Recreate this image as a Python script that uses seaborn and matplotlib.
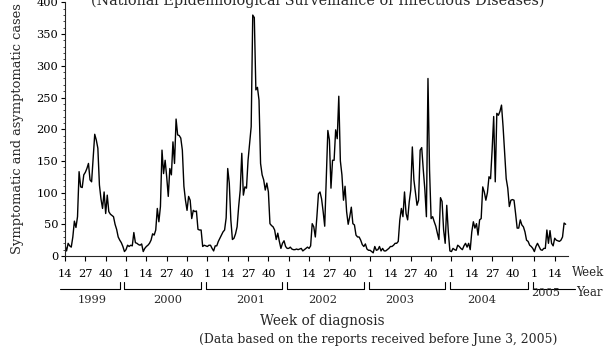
import matplotlib
matplotlib.use("Agg")
import matplotlib.pyplot as plt
from matplotlib.ticker import MultipleLocator
import pandas as pd
import seaborn as sns

# Weekly reported cases per calendar year (1999 starts at week 14, 2005 ends at week 21)
years = [1999, 2000, 2001, 2002, 2003, 2004, 2005]
first_week = [14, 1, 1, 1, 1, 1, 1]
weeks_in_year = [52, 52, 52, 52, 52, 53, 52]
tick_weeks = [1, 14, 27, 40]

cases_1999 = [17, 8, 20, 16, 14, 30, 55, 45, 62, 133, 109, 108, 128, 132, 138, 146,
              120, 117, 155, 192, 183, 170, 112, 90, 75, 101, 67, 96, 70, 66, 64, 62,
              50, 42, 30, 25, 21, 15, 7]
cases_2000 = [10, 17, 15, 17, 16, 37, 21, 20, 18, 17, 19, 7, 12, 15, 17, 20, 25, 35,
              33, 41, 75, 54, 78, 167, 130, 151, 125, 94, 138, 128, 180, 146, 216, 191,
              190, 186, 167, 110, 88, 72, 94, 88, 59, 72, 70, 71, 42, 41, 41, 15, 17, 16]
cases_2001 = [15, 17, 17, 12, 8, 16, 16, 23, 28, 33, 38, 41, 60, 138, 115, 57, 26, 28,
              35, 46, 78, 104, 162, 96, 109, 107, 151, 178, 204, 380, 376, 262, 266,
              246, 146, 128, 120, 104, 115, 101, 51, 48, 46, 41, 26, 36, 23, 12, 20,
              24, 15, 12]
cases_2002 = [12, 14, 11, 10, 10, 11, 10, 11, 12, 8, 10, 12, 14, 12, 16, 51, 46, 30,
              62, 98, 101, 90, 70, 47, 125, 198, 183, 107, 151, 151, 199, 185, 252, 150,
              128, 88, 110, 70, 50, 62, 77, 51, 49, 33, 30, 30, 25, 18, 15, 19, 11, 9]
cases_2003 = [9, 7, 5, 15, 9, 10, 15, 8, 12, 8, 8, 10, 12, 15, 15, 17, 20, 20, 23, 57,
              75, 62, 101, 67, 57, 85, 104, 172, 120, 100, 80, 88, 167, 171, 136, 105,
              62, 280, 136, 59, 62, 54, 47, 36, 26, 92, 86, 41, 20, 80, 38, 8]
cases_2004 = [7, 12, 10, 9, 17, 15, 12, 10, 16, 20, 14, 20, 10, 38, 54, 44, 51, 33, 57,
              59, 109, 101, 88, 100, 125, 122, 167, 220, 117, 225, 222, 228, 238, 204,
              162, 122, 107, 78, 88, 89, 88, 67, 44, 44, 57, 49, 46, 38, 25, 23, 17, 15, 12]
cases_2005 = [7, 15, 20, 15, 10, 9, 12, 12, 41, 20, 40, 20, 16, 28, 25, 24, 23, 25, 30,
              52, 50]

cases = {1999: cases_1999, 2000: cases_2000, 2001: cases_2001, 2002: cases_2002,
         2003: cases_2003, 2004: cases_2004, 2005: cases_2005}

# continuous week counter: t = 0 at 1999 week 14
year_start = {}
t0 = -(first_week[0] - 1)
for y, n in zip(years, weeks_in_year):
    year_start[y] = t0
    t0 += n

rows = []
for y, fw in zip(years, first_week):
    for k, v in enumerate(cases[y]):
        rows.append({"t": year_start[y] + fw - 1 + k, "cases": v})
df = pd.DataFrame(rows)

sns.set_style("ticks")
plt.rcParams["font.family"] = ["DejaVu Serif"]
plt.rcParams["axes.linewidth"] = 0.8

W, H = 609, 346
fig = plt.figure(figsize=(W / 100, H / 100), dpi=100)
ax = fig.add_axes([65 / W, (H - 256) / H, (568 - 65) / W, (256 - 2.4) / H])
sns.lineplot(data=df, x="t", y="cases", color="black", linewidth=1.0,
             estimator=None, ax=ax)

x_max = 321.5
ax.set_xlim(0, x_max)
ax.set_ylim(0, 400)
ax.set_xlabel("")
ax.set_ylabel("")
sns.despine(ax=ax)

ax.yaxis.set_major_locator(MultipleLocator(50))
ax.yaxis.set_minor_locator(MultipleLocator(10))
ax.tick_params(axis="y", which="major", length=3, width=0.8, pad=2,
               labelsize=8.2, colors="black")
ax.tick_params(axis="y", which="minor", length=1.6, width=0.6)

xt, xl = [], []
for y in years:
    for w in tick_weeks:
        t = year_start[y] + w - 1
        if 0 <= t <= x_max:
            xt.append(t)
            xl.append(str(w))
ax.set_xticks(xt)
ax.set_xticklabels(xl)
ax.tick_params(axis="x", which="major", length=3.6, width=0.8, pad=5.5,
               labelsize=8.2, colors="black")

# year brackets below the week labels
trans = ax.get_xaxis_transform()
y_bar, y_tip, y_lab = -0.131, -0.101, -0.1735
label_offset = [30.5, 26.5, 27.5, 22, 19, 19.5, 7.5]
for i, y in enumerate(years):
    s = year_start[y]
    left = max(s - 1, -3.2)
    last = i + 1 == len(years)
    right = 326 if last else year_start[years[i + 1]] - 4
    ax.plot([left, right], [y_bar, y_bar], color="black", lw=0.8,
            transform=trans, clip_on=False)
    if i > 0:
        ax.plot([left, left], [y_bar, y_tip], color="black", lw=0.8,
                transform=trans, clip_on=False)
    if not last:
        ax.plot([right, right], [y_bar, y_tip], color="black", lw=0.8,
                transform=trans, clip_on=False)
    ax.text(s + label_offset[i], -0.146 if last else y_lab, str(y),
            transform=trans, ha="center", va="center", fontsize=8.2)

fig.text(571.7 / W, (H - 272.7) / H, "Week", ha="left", va="center", fontsize=8.5)
fig.text(576 / W, (H - 292) / H, "Year", ha="left", va="center", fontsize=8.5)
fig.text(322.5 / W, (H - 321) / H, "Week of diagnosis", ha="center", va="center",
         fontsize=9.8)
fig.text(378 / W, (H - 339.3) / H,
         "(Data based on the reports received before June 3, 2005)",
         ha="center", va="center", fontsize=8.9)
fig.text(18 / W, (H - 129) / H, "Symptomatic and asymptomatic cases",
         rotation=90, ha="center", va="center", fontsize=9.4)
fig.text(318 / W, (H - 5) / H,
         "(National Epidemiological Surveillance of Infectious Diseases)",
         ha="center", va="baseline", fontsize=10.4)

fig.savefig("out.png", dpi=100)
